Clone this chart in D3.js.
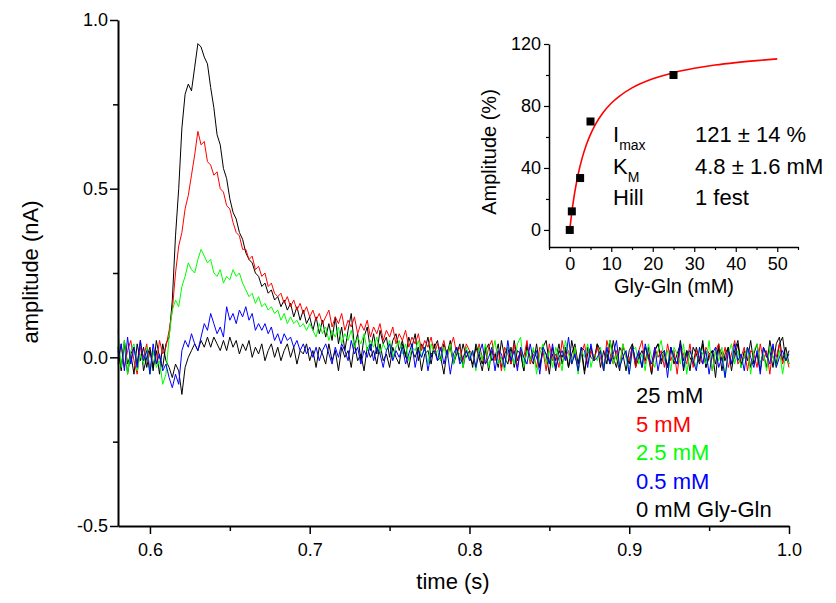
<!DOCTYPE html>
<html>
<head>
<meta charset="utf-8">
<script src="https://cdn.jsdelivr.net/npm/d3@7"></script>
<style>
  body { margin: 0; background: #fff; }
  svg { display: block; font-family: "Liberation Sans", Arial, sans-serif; }
</style>
</head>
<body>
<svg id="chart" width="836" height="603"></svg>
<script>
// recording: 0.58 s .. 1.0 s, one sample every 2 ms
const tStart = 0.58, tStep = 0.002, nSamples = 211;

const trace25 = [
  0.03, -0.04, 0.05, -0.02, 0.01, -0.05, 0.04, -0.01, 0.03, -0.03, 0.02, -0.04, 0.05, 0.00, -0.03, 0.04,
  0.06, 0.17, 0.36, 0.50, 0.68, 0.78, 0.81, 0.79, 0.86, 0.93, 0.92, 0.89, 0.87, 0.80, 0.74,
  0.66, 0.63, 0.56, 0.53, 0.47, 0.43, 0.41, 0.37, 0.35, 0.31, 0.29, 0.28, 0.25, 0.24, 0.21,
  0.22, 0.19, 0.20, 0.17, 0.18, 0.15, 0.17, 0.14, 0.16, 0.12, 0.15, 0.11, 0.14, 0.10, 0.12,
  0.08, 0.12, 0.07, 0.11, 0.06, 0.10, 0.05, 0.12, 0.04, 0.09, 0.02, 0.08, 0.13, 0.03, 0.07,
  -0.01, 0.06, 0.09, 0.02, 0.07, 0.01, 0.08, 0.04, 0.06, 0.00, 0.05, 0.07, 0.02, 0.05, 0.00,
  0.06, 0.03, 0.07, -0.01, 0.04, 0.02, 0.06, 0.00, 0.03, 0.05, -0.01, 0.04, 0.01, 0.05, -0.02,
  0.03, -0.01, 0.04, 0.00, 0.02,
  -0.03, 0.04, 0.01, -0.02, 0.03, -0.04, 0.02, 0.00, 0.04, -0.03,
  0.01, 0.03, -0.02, 0.05, -0.01, 0.02, -0.04, 0.03, 0.00, -0.02,
  0.04, -0.03, 0.02, 0.01, -0.05, 0.03, -0.01, 0.04, -0.02, 0.02,
  -0.03, 0.05, 0.00, -0.02, 0.03, -0.04, 0.01, 0.03, -0.01, 0.04,
  -0.03, 0.02, -0.02, 0.05, 0.00, -0.03, 0.03, 0.01, -0.04, 0.02,
  0.04, -0.02, 0.01, -0.03, 0.03, 0.00, -0.05, 0.02, 0.04, -0.01,
  0.02, -0.03, 0.03, -0.02, 0.01, 0.04, -0.04, 0.02, 0.00, -0.02,
  0.03, -0.01, 0.05, -0.03, 0.01, 0.02, -0.02, 0.04, -0.04, 0.01,
  0.03, -0.02, 0.00, 0.04, -0.03, 0.02, -0.01, 0.05, -0.02, 0.01,
  -0.04, 0.03, 0.00, 0.02, -0.03, 0.04, 0.06, -0.01, 0.03, -0.02
];

const trace5 = [
  -0.02, 0.04, -0.03, 0.02, 0.05, -0.01, -0.05, 0.03, 0.00, 0.04, -0.04, 0.02, -0.02, 0.05, 0.01, 0.03,
  0.08, 0.14, 0.25, 0.33, 0.37, 0.44, 0.48, 0.54, 0.60, 0.67, 0.63, 0.64, 0.58, 0.57, 0.54,
  0.55, 0.50, 0.49, 0.45, 0.44, 0.40, 0.37, 0.36, 0.32, 0.32, 0.29, 0.30, 0.26, 0.27, 0.24,
  0.25, 0.21, 0.22, 0.19, 0.18, 0.19, 0.16, 0.18, 0.15, 0.17, 0.14, 0.16, 0.13, 0.15, 0.12,
  0.14, 0.11, 0.13, 0.10, 0.12, 0.14, 0.09, 0.12, 0.10, 0.13, 0.08, 0.11, 0.09, 0.12, 0.07,
  0.10, 0.08, 0.11, 0.06, 0.09, 0.07, 0.10, 0.05, 0.08, 0.06, 0.09, 0.04, 0.07, 0.05, 0.08,
  0.03, 0.06, 0.04, 0.07, 0.02, 0.05, 0.03, 0.06, 0.01, 0.04, 0.02, 0.05, 0.00, 0.03, 0.06,
  0.01, 0.03, -0.01, 0.04, 0.02,
  0.01, -0.03, 0.04, 0.00, -0.02, 0.03, 0.05, -0.01, 0.02, -0.04,
  0.03, 0.01, -0.02, 0.04, -0.03, 0.02, 0.00, 0.05, -0.02, 0.01,
  -0.03, 0.03, 0.02, -0.04, 0.04, -0.01, 0.01, -0.03, 0.05, 0.00,
  0.02, -0.02, 0.03, -0.04, 0.01, 0.04, -0.02, 0.02, -0.01, 0.03,
  0.00, -0.04, 0.05, 0.01, -0.02, 0.02, -0.03, 0.04, 0.00, -0.01,
  0.03, -0.03, 0.02, 0.05, -0.02, 0.01, -0.04, 0.03, 0.00, 0.02,
  -0.03, 0.04, -0.01, 0.02, -0.05, 0.03, 0.01, -0.02, 0.04, -0.03,
  0.02, 0.00, -0.02, 0.03, 0.01, -0.04, 0.02, 0.04, -0.01, 0.03,
  -0.03, 0.01, 0.05, -0.02, 0.00, 0.03, -0.04, 0.02, 0.01, -0.03,
  0.04, -0.01, 0.02, -0.05, 0.03, 0.00, 0.04, -0.02, 0.01, -0.03
];

const trace2_5 = [
  0.08, -0.03, 0.05, -0.05, 0.02, 0.04, -0.04, 0.01, -0.02, 0.03, -0.05, 0.02, -0.03, -0.01, -0.08, -0.05,
  0.06, 0.14, 0.17, 0.15, 0.21, 0.24, 0.28, 0.26, 0.25, 0.29, 0.32, 0.30, 0.28, 0.29, 0.25,
  0.24, 0.26, 0.22, 0.24, 0.23, 0.26, 0.24, 0.25, 0.22, 0.20, 0.18, 0.19, 0.16, 0.18, 0.15,
  0.16, 0.14, 0.15, 0.13, 0.14, 0.11, 0.13, 0.10, 0.12, 0.10, 0.11, 0.09, 0.10, 0.08, 0.10,
  0.08, 0.06, 0.10, 0.07, 0.09, 0.05, 0.08, 0.06, 0.09, 0.04, 0.07, 0.05, 0.08, 0.03, 0.06,
  0.04, 0.07, 0.02, 0.05, 0.03, 0.06, 0.01, 0.04, 0.02, 0.05, 0.00, 0.03, 0.05, 0.01, 0.04,
  -0.01, 0.03, 0.02, 0.05, 0.00, 0.03, -0.02, 0.04, 0.01, 0.02, -0.01, 0.03, 0.00, 0.04, -0.02,
  0.02, 0.01, -0.03, 0.03, 0.00,
  0.02, -0.04, 0.03, -0.01, 0.04, -0.03, 0.01, 0.05, -0.02, 0.00,
  -0.04, 0.03, 0.01, -0.02, 0.04, 0.06, -0.03, 0.02, -0.01, 0.03,
  -0.05, 0.01, 0.04, -0.02, 0.02, -0.03, 0.03, 0.00, -0.04, 0.05,
  0.01, -0.02, 0.03, -0.05, 0.02, 0.00, 0.04, -0.03, 0.01, -0.01,
  0.03, -0.04, 0.02, 0.05, -0.02, 0.01, -0.03, 0.04, 0.00, -0.05,
  0.02, 0.03, -0.02, 0.01, -0.04, 0.04, 0.00, -0.03, 0.02, 0.05,
  -0.01, 0.02, -0.04, 0.03, 0.01, -0.02, 0.04, -0.05, 0.02, 0.00,
  -0.03, 0.03, 0.01, -0.02, 0.05, -0.04, 0.02, -0.01, 0.03, -0.06,
  0.01, 0.04, -0.02, 0.02, -0.03, 0.00, 0.03, -0.05, 0.02, 0.04,
  -0.02, 0.01, -0.04, 0.03, 0.00, -0.03, 0.02, -0.05, 0.01, -0.02
];

const trace0_5 = [
  -0.01, 0.04, -0.04, 0.06, -0.02, 0.03, -0.03, 0.05, -0.01, 0.02, -0.05, 0.04, -0.02, 0.01, -0.04, -0.02,
  -0.06, -0.09, -0.05, -0.08, 0.02, 0.05, 0.03, 0.07, 0.04, 0.02, 0.06, 0.10, 0.08, 0.13, 0.10,
  0.07, 0.09, 0.06, 0.15, 0.11, 0.13, 0.10, 0.14, 0.12, 0.15, 0.11, 0.13, 0.08, 0.10, 0.08,
  0.10, 0.07, 0.09, 0.05, 0.07, 0.04, 0.07, 0.05, 0.06, 0.03, 0.05, 0.02, 0.04, 0.01, 0.03,
  0.00, 0.03, -0.01, 0.02, 0.04, 0.01, -0.02, 0.03, 0.00, 0.04, 0.02, -0.01, 0.05, 0.01, 0.03,
  -0.02, 0.02, 0.00, 0.04, -0.01, 0.03, 0.01, -0.03, 0.02, 0.04, -0.01, 0.02, 0.00, 0.03, -0.02,
  0.01, 0.04, -0.03, 0.02, 0.00, 0.03, -0.04, 0.01, 0.02, -0.01, 0.03, -0.02, 0.02, -0.05, 0.01,
  0.03, -0.02, 0.00, 0.02, -0.01,
  0.02, -0.03, 0.01, 0.04, -0.02, 0.00, 0.03, -0.04, 0.02, 0.01,
  -0.03, 0.05, -0.01, 0.02, -0.04, 0.03, 0.00, -0.02, 0.04, -0.01,
  0.02, -0.05, 0.03, 0.01, -0.02, 0.04, -0.03, 0.00, 0.02, -0.01,
  0.06, -0.02, 0.01, -0.04, 0.03, 0.02, -0.03, 0.04, -0.01, 0.00,
  0.02, -0.04, 0.03, -0.02, 0.01, 0.05, -0.03, 0.00, 0.02, -0.05,
  0.03, -0.01, 0.02, -0.03, 0.04, 0.00, -0.02, 0.03, -0.04, 0.01,
  0.02, -0.06, 0.03, 0.00, -0.02, 0.04, -0.03, 0.01, 0.02, -0.01,
  -0.04, 0.03, -0.02, 0.02, -0.05, 0.01, 0.03, -0.03, 0.00, -0.06,
  0.02, -0.02, 0.04, -0.01, 0.01, -0.04, 0.03, 0.00, -0.03, 0.02,
  -0.05, 0.03, 0.01, -0.02, 0.04, -0.03, 0.00, 0.02, -0.01, 0.01
];

const trace0 = [
  0.02, -0.03, 0.04, -0.05, 0.01, 0.03, -0.02, 0.05, -0.04, 0.00, 0.03, -0.03, 0.02, -0.05, 0.04, -0.01,
  -0.03, -0.06, -0.02, -0.04, -0.11, -0.03, 0.00, 0.02, 0.04, 0.02, 0.05, 0.03, 0.06, 0.03, 0.06,
  0.04, 0.02, 0.05, 0.02, 0.06, 0.03, 0.05, 0.01, 0.04, 0.02, 0.05, 0.00, 0.03, 0.01, 0.04,
  -0.01, 0.02, 0.04, 0.00, 0.03, -0.01, 0.02, 0.04, 0.00, 0.03, -0.02, 0.02, 0.01, 0.04, -0.01,
  0.02, -0.03, 0.03, 0.01, -0.02, 0.04, -0.01, 0.02, -0.04, 0.03, 0.00, 0.02, -0.03, 0.04, -0.01,
  0.01, -0.04, 0.03, 0.00, 0.02, -0.02, 0.04, -0.01, 0.01, -0.03, 0.03, 0.00, -0.02, 0.04, 0.01,
  -0.03, 0.02, 0.00, 0.03, -0.04, 0.01, 0.02, -0.02, 0.04, -0.01, 0.00, -0.05, 0.02, 0.03, -0.02,
  0.01, 0.04, -0.03, 0.02, 0.00,
  -0.02, 0.03, 0.00, -0.04, 0.02, 0.04, -0.01, 0.01, -0.03, 0.05,
  0.00, -0.02, 0.03, -0.03, 0.02, 0.01, -0.04, 0.04, -0.01, 0.02,
  0.00, -0.03, 0.03, 0.05, -0.02, 0.01, -0.04, 0.02, 0.00, 0.03,
  -0.03, 0.01, 0.04, -0.02, 0.02, -0.05, 0.03, 0.00, -0.01, 0.04,
  0.02, -0.03, 0.01, -0.02, 0.05, 0.00, -0.04, 0.03, 0.01, -0.02,
  0.04, -0.03, 0.00, 0.02, -0.01, 0.03, -0.05, 0.02, 0.04, -0.02,
  0.01, -0.03, 0.03, 0.00, -0.02, 0.05, -0.01, 0.02, -0.04, 0.03,
  0.01, -0.02, 0.04, -0.03, 0.00, 0.02, -0.06, 0.03, 0.01, -0.01,
  0.03, -0.04, 0.02, 0.05, -0.02, 0.00, 0.03, -0.03, 0.01, 0.04,
  -0.02, 0.01, -0.03, 0.05, 0.00, -0.02, 0.04, 0.06, -0.01, 0.02
];

const legendLabels = ["25 mM", "5 mM", "2.5 mM", "0.5 mM", "0 mM Gly-Gln"];
const traceColors = ["#000000", "#ff0000", "#00ff00", "#0000ff", "#000000"];

// inset: dose-response
const doseConc = [0, 0.5, 2.5, 5, 25];
const doseAmp = [0, 12, 33.5, 70, 100];
// fitted curve (Imax 121 %, KM 4.8 mM, Hill 1)
const fitConc = [0, 0.5, 1, 1.5, 2, 3, 4, 5, 6, 8, 10, 12, 15, 20, 25, 30, 35, 40, 45, 50];
const fitAmp = [0, 11.4, 20.9, 28.8, 35.6, 46.5, 55.0, 61.7, 67.2, 75.6, 81.8, 86.4, 91.7, 97.6, 101.5, 104.3, 106.4, 108.0, 109.3, 110.4];

const xTicks = [0.6, 0.7, 0.8, 0.9, 1.0];
const xMinor = [0.65, 0.75, 0.85, 0.95];
const yTicks = [-0.5, 0.0, 0.5, 1.0];
const yMinor = [-0.25, 0.25, 0.75];
const insetXTicks = [0, 10, 20, 30, 40, 50];
const insetXMinor = [-5, 5, 15, 25, 35, 45, 55];
const insetYTicks = [0, 40, 80, 120];
const insetYMinor = [20, 60, 100];

const svg = d3.select("#chart");
svg.append("rect").attr("width", 836).attr("height", 603).attr("fill", "#fff");

let xScale = d3.scaleLinear().domain([0.58, 1.0]).range([118, 789]);
let yScale = d3.scaleLinear().domain([-0.5, 1.0]).range([526, 20]);

const times = d3.range(nSamples).map(i => tStart + i * tStep);

let line = d3.line()
  .x((d, i) => xScale(times[i]))
  .y(d => yScale(d));

let traces = [trace0, trace25, trace5, trace2_5, trace0_5];
let traceCol = ["#000000", "#000000", "#ff0000", "#00ff00", "#0000ff"];
traces.forEach((tr, k) => {
  svg.append("path")
    .attr("d", line(tr))
    .attr("fill", "none")
    .attr("stroke", traceCol[k])
    .attr("stroke-width", 1)
    .attr("stroke-linejoin", "round");
});

// plain hyphen minus, one decimal
let fmt1 = d => d.toFixed(1);

// main axes
let gX = svg.append("g").attr("transform", "translate(0,526)")
  .call(d3.axisBottom(xScale).tickValues(xTicks).tickFormat(fmt1)
    .tickSize(8).tickSizeOuter(0).tickPadding(9));
svg.append("g").attr("transform", "translate(0,526)")
  .call(d3.axisBottom(xScale).tickValues(xMinor).tickFormat("").tickSize(5).tickSizeOuter(0))
  .select(".domain").remove();
let gY = svg.append("g").attr("transform", "translate(118,0)")
  .call(d3.axisLeft(yScale).tickValues(yTicks).tickFormat(fmt1)
    .tickSize(8).tickSizeOuter(0).tickPadding(2));
svg.append("g").attr("transform", "translate(118,0)")
  .call(d3.axisLeft(yScale).tickValues(yMinor).tickFormat("").tickSize(5).tickSizeOuter(0))
  .select(".domain").remove();

svg.selectAll(".domain").attr("stroke-width", 2);
svg.selectAll(".tick line").attr("stroke-width", 1.5);
gX.selectAll("text").attr("font-size", 18).attr("fill", "#000");
gY.selectAll("text").attr("font-size", 18).attr("fill", "#000");
svg.selectAll("g").attr("font-family", null);

// axis titles
svg.append("text")
  .attr("x", 453).attr("y", 589)
  .attr("text-anchor", "middle")
  .attr("font-size", 22)
  .text("time (s)");
svg.append("text")
  .attr("transform", "translate(38,272) rotate(-90)")
  .attr("text-anchor", "middle")
  .attr("font-size", 22)
  .text("amplitude (nA)");

// legend
svg.selectAll(".legend")
  .data(legendLabels)
  .enter()
  .append("text")
    .attr("class", "legend")
    .attr("x", 636)
    .attr("y", (d, i) => 403 + i * 28.6)
    .attr("font-size", 22)
    .attr("fill", (d, i) => traceColors[i])
    .text(d => d);

// ---------- inset ----------
let xi = d3.scaleLinear().domain([-5, 55]).range([549, 798]);
let yi = d3.scaleLinear().domain([-11, 120]).range([247, 44]);

let inset = svg.append("g");
let giX = inset.append("g").attr("transform", "translate(0,247)")
  .call(d3.axisBottom(xi).tickValues(insetXTicks).tickSize(5).tickSizeOuter(0).tickPadding(5));
inset.append("g").attr("transform", "translate(0,247)")
  .call(d3.axisBottom(xi).tickValues(insetXMinor).tickFormat("").tickSize(3).tickSizeOuter(0))
  .select(".domain").remove();
let giY = inset.append("g").attr("transform", "translate(549,0)")
  .call(d3.axisLeft(yi).tickValues(insetYTicks).tickSize(5).tickSizeOuter(0).tickPadding(3));
inset.append("g").attr("transform", "translate(549,0)")
  .call(d3.axisLeft(yi).tickValues(insetYMinor).tickFormat("").tickSize(3).tickSizeOuter(0))
  .select(".domain").remove();
inset.selectAll(".domain").attr("stroke-width", 1.5);
inset.selectAll(".tick line").attr("stroke-width", 1.2);
giX.selectAll("text").attr("font-size", 18).attr("fill", "#000");
giY.selectAll("text").attr("font-size", 18).attr("fill", "#000");
inset.selectAll("g").attr("font-family", null);

// fitted curve
let fitLine = d3.line()
  .x((d, i) => xi(fitConc[i]))
  .y(d => yi(d))
  .curve(d3.curveMonotoneX);
inset.append("path")
  .attr("d", fitLine(fitAmp))
  .attr("fill", "none")
  .attr("stroke", "#ff0000")
  .attr("stroke-width", 1.6);

// data squares
inset.selectAll(".pt")
  .data(doseAmp)
  .enter()
  .append("rect")
    .attr("class", "pt")
    .attr("x", (d, i) => xi(doseConc[i]) - 4)
    .attr("y", d => yi(d) - 4)
    .attr("width", 8)
    .attr("height", 8)
    .attr("fill", "#000");

inset.append("text")
  .attr("x", 674).attr("y", 293)
  .attr("text-anchor", "middle")
  .attr("font-size", 20)
  .text("Gly-Gln (mM)");
inset.append("text")
  .attr("transform", "translate(496,152) rotate(-90)")
  .attr("text-anchor", "middle")
  .attr("font-size", 20)
  .text("Amplitude (%)");

// fit parameters
let p1 = inset.append("text").attr("x", 613).attr("y", 142).attr("font-size", 22);
p1.append("tspan").text("I");
p1.append("tspan").attr("font-size", 14).attr("dy", 8).text("max");
let p2 = inset.append("text").attr("x", 613).attr("y", 174).attr("font-size", 22);
p2.append("tspan").text("K");
p2.append("tspan").attr("font-size", 14).attr("dy", 8).text("M");
inset.append("text").attr("x", 613).attr("y", 205).attr("font-size", 22).text("Hill");

inset.append("text").attr("x", 695).attr("y", 142).attr("font-size", 22).text("121 ± 14 %");
inset.append("text").attr("x", 695).attr("y", 174).attr("font-size", 22).text("4.8 ± 1.6 mM");
inset.append("text").attr("x", 695).attr("y", 205).attr("font-size", 22).text("1 fest");
</script>
</body>
</html>
